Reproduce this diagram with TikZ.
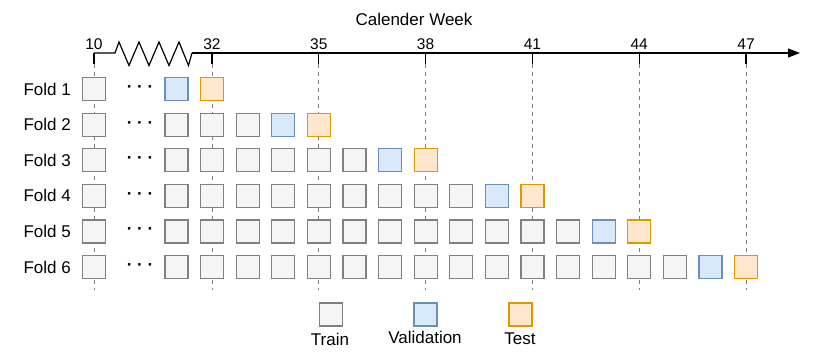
\documentclass[tikz,border=0pt]{standalone}
\usepackage{fontspec}
\setmainfont{Liberation Sans}
\usetikzlibrary{arrows.meta}
\definecolor{trainfill}{HTML}{F5F5F5}
\definecolor{traindraw}{HTML}{808080}
\definecolor{valfill}{HTML}{DAE8FC}
\definecolor{valdraw}{HTML}{6C8EBF}
\definecolor{testfill}{HTML}{FFE6CC}
\definecolor{testdraw}{HTML}{D79B00}
\definecolor{guidegray}{HTML}{808080}
\begin{document}
\begin{tikzpicture}[x=1pt,y=-1pt,
  cell/.style={minimum size=23pt, inner sep=0pt, line width=1.2pt},
  trainbox/.style={cell, fill=trainfill, draw=traindraw},
  valbox/.style={cell, fill=valfill, draw=valdraw},
  testbox/.style={cell, fill=testfill, draw=testdraw},
  lbl/.style={font=\fontsize{17}{20}\selectfont, inner sep=0pt},
  num/.style={font=\fontsize{15.5}{18}\selectfont, inner sep=0pt},
  dotsstyle/.style={font=\fontsize{17}{20}\selectfont\bfseries, inner sep=0pt},
  guide/.style={draw=guidegray, dash pattern=on 4pt off 4pt, line width=1pt},
  tick/.style={draw=black, line width=1.2pt},
  axisline/.style={draw=black, line width=1.2pt, line join=miter},
]
\useasboundingbox (0,0) rectangle (830,356);

% title
\node[lbl] (title) at (414,19) {Calender Week};

% axis coordinates
\coordinate (a10) at (94,53);
\coordinate (zs) at (115,53);
\coordinate (ze) at (192,53);
\coordinate (aend) at (800,53);
\draw[axisline] (a10) -- (zs) -- (119,42) -- (129,65.5) -- (139,42) -- (149,65.5)
  -- (159,42) -- (169,65.5) -- (179,42) -- (188.5,65.5) -- (ze);
\draw[axisline, -{Stealth[length=12pt,width=9pt,inset=0pt]}] (ze) -- (aend);

% ticks, labels and guides
\coordinate (t10) at (94,53);
\coordinate (m10) at (94,64);
\coordinate (g10) at (94,290);
\node[num] (n10) at (94,44) {10};
\draw[tick] (t10) -- (m10);
\draw[guide] (m10) -- (g10);
\foreach \w in {32,35,38,41,44,47} {
  \coordinate (t\w) at ({212+35.6*(\w-32)},53);
  \coordinate (m\w) at ({212+35.6*(\w-32)},64);
  \coordinate (g\w) at ({212+35.6*(\w-32)},290);
  \node[num] (n\w) at ({212+35.6*(\w-32)},44) {\w};
  \draw[tick] (t\w) -- (m\w);
  \draw[guide] (m\w) -- (g\w);
}

% folds
\foreach \f in {1,...,6} {
  \pgfmathsetmacro\yy{89+35.6*(\f-1)}
  \pgfmathtruncatemacro\last{27+3*\f}
  \pgfmathtruncatemacro\valw{28+3*\f}
  \pgfmathtruncatemacro\testw{29+3*\f}
  \node[lbl, anchor=east] (fold\f) at (71,\yy) {Fold \f};
  \node[trainbox] (b\f-10) at (94,\yy) {};
  \node[dotsstyle] (dots\f) at (140,\yy) {· · ·};
  \ifnum\last>30
    \foreach \w in {31,...,\last} {
      \node[trainbox] (b\f-\w) at ({212+35.6*(\w-32)},\yy) {};
    }
  \fi
  \node[valbox] (b\f-\valw) at ({212+35.6*(\valw-32)},\yy) {};
  \node[testbox] (b\f-\testw) at ({212+35.6*(\testw-32)},\yy) {};
}

% legend
\node[trainbox] (ltrain) at (331,314.5) {};
\node[valbox] (lval) at (425.5,314.5) {};
\node[testbox] (ltest) at (520.5,314.5) {};
\node[lbl] (ltraint) at (330,339) {Train};
\node[lbl] (lvalt) at (425,337) {Validation};
\node[lbl] (ltestt) at (520,339) {Test};
\end{tikzpicture}
\end{document}
